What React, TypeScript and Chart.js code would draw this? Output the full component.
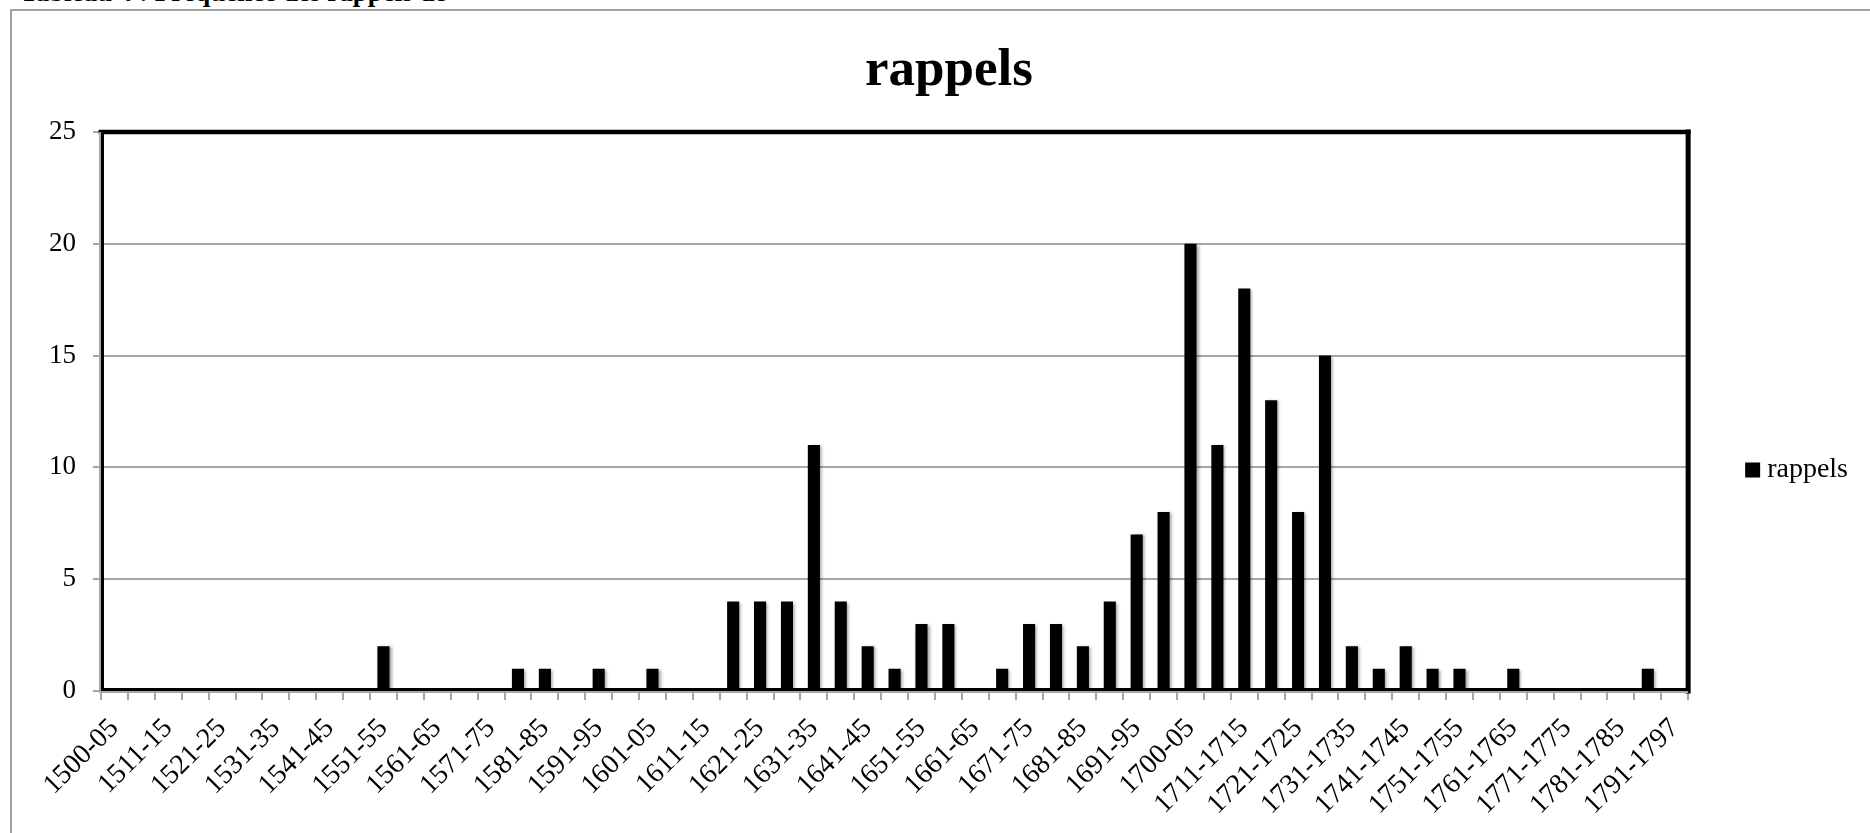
import React, { useEffect, useRef } from "react";
import { Chart, registerables } from "chart.js";

Chart.register(...registerables);

const chartTitle = "rappels";
const seriesName = "rappels";
const captionText = "Tableau 4 : Fréquence des rappels de";

const categories = [
  "1500-05", "1506-10", "1511-15", "1516-20", "1521-25", "1526-30", "1531-35", "1536-40",
  "1541-45", "1546-50", "1551-55", "1556-60", "1561-65", "1566-70", "1571-75", "1576-80",
  "1581-85", "1586-90", "1591-95", "1596-1600", "1601-05", "1606-10", "1611-15", "1616-20",
  "1621-25", "1626-30", "1631-35", "1636-40", "1641-45", "1646-50", "1651-55", "1656-60",
  "1661-65", "1666-70", "1671-75", "1676-80", "1681-85", "1686-90", "1691-95", "1696-99",
  "1700-05", "1706-1710", "1711-1715", "1716-1720", "1721-1725", "1726-1730", "1731-1735",
  "1736-1740", "1741-1745", "1746-1750", "1751-1755", "1756-1760", "1761-1765", "1766-1770",
  "1771-1775", "1776-1780", "1781-1785", "1786-1790", "1791-1797",
];

const rappelsValues = [
  0, 0, 0, 0, 0, 0, 0, 0,
  0, 0, 2, 0, 0, 0, 0, 1,
  1, 0, 1, 0, 1, 0, 0, 4,
  4, 4, 11, 4, 2, 1, 3, 3,
  0, 1, 3, 3, 2, 4, 7, 8,
  20, 11, 18, 13, 8, 15, 2,
  1, 2, 1, 1, 0, 1, 0,
  0, 0, 0, 1, 0,
];

const yMin = 0;
const yMax = 25;
const yStep = 5;

const FONT = "'Liberation Serif', 'DejaVu Serif', serif";
const GRID = "#a6a6a6";

const frameplugin = {
  id: "plotFrame",
  beforeDatasetsDraw(chart: any) {
    const ctx = chart.ctx;
    ctx.save();
    ctx.shadowColor = "rgba(0,0,0,0.35)";
    ctx.shadowBlur = 3;
    ctx.shadowOffsetX = 2;
    ctx.shadowOffsetY = 1;
  },
  afterDatasetsDraw(chart: any) {
    const ctx = chart.ctx;
    ctx.restore();
    const { left, right, top, bottom } = chart.chartArea;
    ctx.save();
    ctx.strokeStyle = "#000";
    ctx.lineCap = "square";
    ctx.lineWidth = 4.7;
    ctx.beginPath();
    ctx.moveTo(left, top);
    ctx.lineTo(right, top);
    ctx.stroke();
    ctx.lineWidth = 5;
    ctx.beginPath();
    ctx.moveTo(right, top);
    ctx.lineTo(right, bottom);
    ctx.stroke();
    ctx.lineCap = "butt";
    ctx.lineWidth = 3;
    ctx.beginPath();
    ctx.moveTo(left + 1.5, top);
    ctx.lineTo(left + 1.5, bottom);
    ctx.stroke();
    ctx.beginPath();
    ctx.moveTo(left, bottom - 1.5);
    ctx.lineTo(right, bottom - 1.5);
    ctx.stroke();
    ctx.strokeStyle = GRID;
    ctx.lineWidth = 2;
    ctx.beginPath();
    ctx.moveTo(left - 1, top);
    ctx.lineTo(left - 1, bottom + 2);
    ctx.stroke();
    ctx.beginPath();
    ctx.moveTo(left - 2, bottom + 1);
    ctx.lineTo(right, bottom + 1);
    ctx.stroke();
    ctx.restore();
  },
};

export default function App() {
  const canvasRef = useRef<HTMLCanvasElement | null>(null);

  useEffect(() => {
    if (!canvasRef.current) return;
    const chart = new Chart(canvasRef.current, {
      type: "bar",
      data: {
        labels: categories,
        datasets: [
          {
            label: seriesName,
            data: rappelsValues,
            backgroundColor: "#000",
            borderWidth: 0,
            barPercentage: 0.45,
            categoryPercentage: 1,
          },
        ],
      },
      options: {
        responsive: false,
        animation: false,
        devicePixelRatio: 1,
        layout: { padding: { left: 40, right: 12, top: 0, bottom: 0 } },
        plugins: {
          title: {
            display: true,
            text: chartTitle,
            color: "#000",
            font: { family: FONT, size: 53, weight: "bold" },
            padding: { top: 40, bottom: 28.4 },
          },
          legend: {
            display: true,
            position: "right",
            align: "center",
            title: {
              display: true,
              text: " ",
              font: { size: 10 },
              padding: { top: 95, bottom: 0 },
            },
            labels: {
              usePointStyle: true,
              pointStyle: "rect",
              boxWidth: 1,
              boxHeight: 15,
              padding: 64,
              color: "#000",
              font: { family: FONT, size: 28 },
            },
          },
          tooltip: { enabled: false },
        },
        scales: {
          x: {
            grid: {
              offset: true,
              drawOnChartArea: false,
              drawTicks: true,
              tickLength: 9,
              color: GRID,
              lineWidth: 2,
            },
            border: { display: false },
            ticks: {
              autoSkip: false,
              maxRotation: 45,
              minRotation: 45,
              padding: 12,
              color: "#000",
              font: { family: FONT, size: 28 },
              callback: (_v: any, i: number) => (i % 2 === 0 ? categories[i] : ""),
            },
            afterFit: (s: any) => {
              s.height = 142;
            },
          },
          y: {
            min: yMin,
            max: yMax,
            grid: { color: GRID, lineWidth: 2, tickLength: 8 },
            border: { display: false },
            ticks: {
              stepSize: yStep,
              padding: 17,
              color: "#000",
              font: { family: FONT, size: 27 },
            },
            afterFit: (s: any) => {
              s.width = 61;
            },
          },
        },
      },
      plugins: [frameplugin],
    } as any);
    return () => chart.destroy();
  }, []);

  return (
    <div
      style={{
        position: "fixed",
        left: 0,
        top: 0,
        width: 1870,
        height: 833,
        overflow: "hidden",
        background: "#fff",
      }}
    >
      <span
        style={{
          position: "absolute",
          left: 20,
          top: -21.5,
          fontFamily: FONT,
          fontWeight: "bold",
          fontSize: 27,
          lineHeight: "27px",
          whiteSpace: "nowrap",
          color: "#000",
        }}
      >
        {captionText}
      </span>
      <div
        style={{
          position: "absolute",
          left: 10,
          top: 9,
          width: 1900,
          height: 900,
          border: "2px solid #a0a0a0",
          boxSizing: "border-box",
        }}
      />
      <canvas
        ref={canvasRef}
        width={1870}
        height={833}
        style={{ position: "absolute", left: 0, top: 0, display: "block" }}
      />
    </div>
  );
}
